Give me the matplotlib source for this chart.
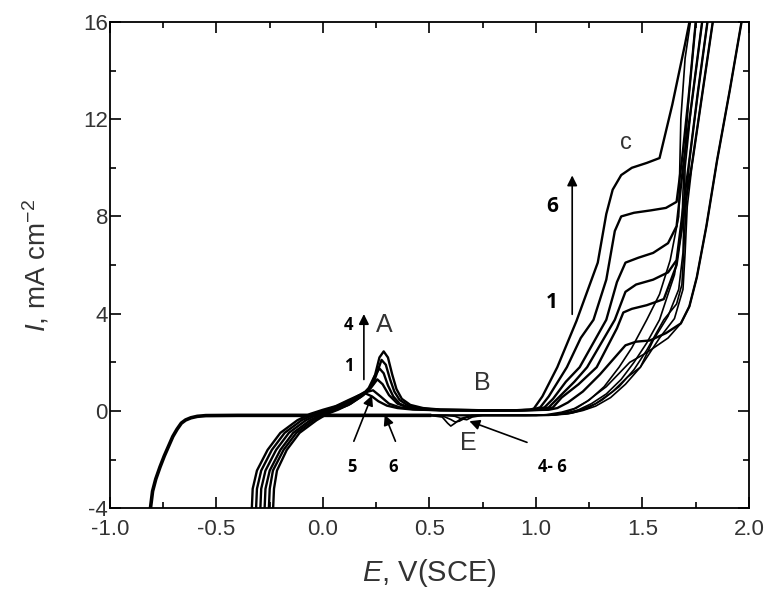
import matplotlib
matplotlib.use("Agg")
import matplotlib.pyplot as plt
import numpy as np

plt.rcParams['font.family'] = ['Liberation Sans', 'DejaVu Sans']
plt.rcParams['mathtext.fontset'] = 'custom'
plt.rcParams['mathtext.rm'] = 'Liberation Sans'
plt.rcParams['mathtext.it'] = 'Liberation Sans:italic'
plt.rcParams['axes.unicode_minus'] = False

# ---- forward sweeps, cycles 1..6  (E in V vs SCE, I in mA cm-2)
f1_E = [-0.235, -0.23, -0.216, -0.17, -0.11, -0.03, 0.02, 0.07, 0.13, 0.19, 0.225, 0.255, 0.28, 0.31, 0.35,
        0.40, 0.47, 0.55, 0.75, 0.95, 1.06, 1.10, 1.15, 1.22, 1.30, 1.37, 1.42, 1.47, 1.535, 1.61, 1.68,
        1.72, 1.755, 1.80, 1.85, 1.91, 1.965, 1.98]
f1_I = [-4.2, -3.2, -2.45, -1.6, -0.9, -0.38, -0.12, 0.05, 0.3, 0.65, 0.95, 1.3, 1.1, 0.65, 0.3,
        0.14, 0.07, 0.04, 0.03, 0.03, 0.05, 0.12, 0.35, 0.8, 1.5, 2.2, 2.7, 2.85, 2.9, 3.2, 3.6,
        4.3, 5.5, 7.6, 10.3, 13.2, 16.0, 16.8]

f2_E = [-0.255, -0.25, -0.235, -0.185, -0.125, -0.045, 0.01, 0.06, 0.12, 0.18, 0.215, 0.24, 0.265, 0.285,
        0.305, 0.33, 0.36, 0.40, 0.46, 0.55, 0.75, 0.92, 1.04, 1.08, 1.12, 1.20, 1.285, 1.38, 1.41, 1.45,
        1.52, 1.60, 1.66, 1.70, 1.735, 1.78, 1.83, 1.845]
f2_I = [-4.2, -3.2, -2.45, -1.6, -0.9, -0.38, -0.12, 0.05, 0.25, 0.6, 0.95, 1.4, 1.75, 1.55,
        1.05, 0.6, 0.3, 0.15, 0.08, 0.04, 0.03, 0.03, 0.05, 0.15, 0.55, 1.1, 1.8, 3.4, 4.05, 4.2,
        4.35, 4.6, 6.0, 8.5, 10.3, 13.0, 16.0, 16.8]

f3_E = [-0.275, -0.27, -0.25, -0.20, -0.14, -0.06, 0.0, 0.05, 0.11, 0.17, 0.21, 0.235, 0.255, 0.275,
        0.295, 0.315, 0.335, 0.36, 0.40, 0.46, 0.55, 0.75, 0.92, 1.02, 1.06, 1.10, 1.18, 1.24, 1.37,
        1.42, 1.47, 1.55, 1.62, 1.66, 1.70, 1.72, 1.76, 1.805, 1.82]
f3_I = [-4.2, -3.2, -2.45, -1.6, -0.9, -0.38, -0.12, 0.05, 0.25, 0.55, 0.85, 1.1, 1.6, 2.1,
        1.9, 1.3, 0.8, 0.45, 0.22, 0.1, 0.05, 0.03, 0.03, 0.05, 0.15, 0.5, 1.2, 1.8, 3.75,
        4.9, 5.2, 5.4, 5.7, 6.2, 9.0, 10.3, 13.1, 16.0, 16.8]

f4_E = [-0.295, -0.29, -0.27, -0.22, -0.16, -0.08, -0.02, 0.03, 0.09, 0.15, 0.20, 0.225, 0.245, 0.265,
        0.285, 0.305, 0.325, 0.345, 0.37, 0.41, 0.47, 0.55, 0.75, 0.92, 1.0, 1.04, 1.08, 1.14, 1.205,
        1.33, 1.38, 1.42, 1.48, 1.55, 1.62, 1.66, 1.69, 1.73, 1.78, 1.79]
f4_I = [-4.2, -3.2, -2.45, -1.6, -0.9, -0.38, -0.12, 0.05, 0.25, 0.5, 0.8, 1.0, 1.5, 2.2,
        2.45, 2.2, 1.5, 0.9, 0.5, 0.25, 0.12, 0.06, 0.03, 0.03, 0.05, 0.15, 0.5, 1.2, 1.8,
        3.75, 5.3, 6.1, 6.3, 6.5, 6.9, 7.6, 10.0, 12.6, 16.0, 16.8]

f5_E = [-0.315, -0.31, -0.29, -0.24, -0.18, -0.10, -0.04, 0.02, 0.08, 0.14, 0.19, 0.235, 0.27, 0.31,
        0.36, 0.43, 0.55, 0.75, 0.90, 0.98, 1.02, 1.06, 1.145, 1.21, 1.27, 1.33, 1.37, 1.40, 1.46,
        1.54, 1.61, 1.66, 1.685, 1.72, 1.75, 1.765]
f5_I = [-4.2, -3.2, -2.45, -1.6, -0.9, -0.38, -0.12, 0.05, 0.25, 0.5, 0.75, 0.85, 0.6, 0.3,
        0.15, 0.07, 0.03, 0.02, 0.03, 0.05, 0.15, 0.6, 1.8, 3.0, 3.75, 5.4, 7.4, 8.0, 8.15,
        8.25, 8.35, 8.6, 10.3, 13.2, 16.0, 16.8]

f6_E = [-0.335, -0.33, -0.31, -0.26, -0.20, -0.12, -0.06, 0.0, 0.06, 0.12, 0.17, 0.20, 0.23, 0.26,
        0.30, 0.35, 0.42, 0.55, 0.75, 0.90, 0.97, 0.99, 1.03, 1.10, 1.19, 1.29, 1.33, 1.36, 1.40,
        1.45, 1.52, 1.58, 1.64, 1.70, 1.725, 1.74]
f6_I = [-4.2, -3.2, -2.45, -1.6, -0.9, -0.38, -0.12, 0.05, 0.2, 0.45, 0.65, 0.72, 0.6, 0.4,
        0.22, 0.12, 0.06, 0.03, 0.02, 0.03, 0.05, 0.1, 0.6, 1.8, 3.7, 6.1, 8.1, 9.1, 9.7,
        10.0, 10.2, 10.4, 12.6, 15.1, 16.2, 16.8]

# ---- reverse sweeps from vertex down to 0.5 V (cycles 4-6 show the small peak E)
r1_E = [1.98, 1.965, 1.91, 1.85, 1.80, 1.755, 1.72, 1.68, 1.62, 1.52, 1.44, 1.33, 1.24, 1.18, 1.12, 1.05,
        1.0, 0.8, 0.5]
r1_I = [16.8, 16.0, 13.2, 10.3, 7.6, 5.5, 4.3, 3.6, 3.0, 2.4, 2.0, 1.0, 0.4, 0.1, -0.05, -0.15,
        -0.18, -0.18, -0.18]

r2_E = [1.845, 1.83, 1.78, 1.735, 1.71, 1.70, 1.69, 1.65, 1.58, 1.49, 1.43, 1.36, 1.28, 1.21, 1.14, 1.07,
        1.0, 0.8, 0.5]
r2_I = [16.8, 16.0, 13.0, 10.3, 8.4, 6.5, 5.0, 3.8, 3.0, 1.8, 1.4, 0.8, 0.3, 0.05, -0.1, -0.17,
        -0.18, -0.18, -0.18]

r3_E = [1.82, 1.805, 1.76, 1.72, 1.705, 1.695, 1.685, 1.66, 1.60, 1.52, 1.46, 1.39, 1.31, 1.24, 1.17, 1.08,
        1.0, 0.8, 0.5]
r3_I = [16.8, 16.0, 13.1, 10.3, 8.5, 6.8, 5.2, 4.4, 3.75, 2.5, 1.7, 1.0, 0.45, 0.1, -0.08, -0.17,
        -0.18, -0.18, -0.18]

r4_E = [1.79, 1.78, 1.73, 1.70, 1.695, 1.69, 1.67, 1.62, 1.55, 1.49, 1.42, 1.35, 1.28, 1.22, 1.15, 1.06,
        0.95, 0.75, 0.70, 0.675, 0.65, 0.62, 0.58, 0.5]
r4_I = [16.8, 16.0, 12.6, 10.0, 8.0, 6.5, 5.0, 3.9, 2.9, 1.8, 1.1, 0.55, 0.2, 0.02, -0.12, -0.18,
        -0.18, -0.18, -0.25, -0.36, -0.32, -0.22, -0.18, -0.18]

r5_E = [1.765, 1.75, 1.72, 1.70, 1.69, 1.685, 1.65, 1.58, 1.52, 1.46, 1.40, 1.33, 1.26, 1.20, 1.14, 1.06,
        0.95, 0.72, 0.67, 0.64, 0.62, 0.60, 0.56, 0.5]
r5_I = [16.8, 16.0, 13.2, 10.8, 9.0, 7.5, 5.6, 3.75, 2.8, 2.0, 1.3, 0.7, 0.3, 0.05, -0.1, -0.17,
        -0.18, -0.18, -0.28, -0.42, -0.45, -0.35, -0.2, -0.18]

r6_E = [1.74, 1.725, 1.70, 1.68, 1.675, 1.67, 1.63, 1.58, 1.52, 1.45, 1.39, 1.32, 1.25, 1.19, 1.14, 1.08,
        0.95, 0.70, 0.65, 0.62, 0.60, 0.585, 0.56, 0.5]
r6_I = [16.8, 16.0, 14.5, 12.0, 10.0, 8.0, 6.2, 4.8, 3.75, 2.6, 1.8, 1.0, 0.45, 0.12, -0.05, -0.15,
        -0.18, -0.18, -0.3, -0.5, -0.62, -0.5, -0.25, -0.18]

# common cathodic tail of the reverse sweeps
tail_E = [0.5, 0.2, 0.0, -0.2, -0.4, -0.55, -0.59, -0.62, -0.645, -0.665, -0.685, -0.705, -0.725, -0.745,
          -0.765, -0.785, -0.80, -0.81, -0.812]
tail_I = [-0.18, -0.18, -0.18, -0.18, -0.18, -0.19, -0.22, -0.28, -0.37, -0.5, -0.75, -1.05, -1.45, -1.85,
          -2.3, -2.8, -3.3, -4.0, -4.3]

forward = [(f1_E, f1_I), (f2_E, f2_I), (f3_E, f3_I), (f4_E, f4_I), (f5_E, f5_I), (f6_E, f6_I)]
reverse = [(r1_E, r1_I), (r2_E, r2_I), (r3_E, r3_I), (r4_E, r4_I), (r5_E, r5_I), (r6_E, r6_I)]

fig = plt.figure(figsize=(7.69, 5.91), dpi=100)
ax = fig.add_axes([0.143, 0.140, 0.831, 0.823])

for E, I in forward:
    ax.plot(E, I, color='black', lw=1.7)
for E, I in reverse:
    ax.plot(E, I, color='black', lw=1.2)
ax.plot(tail_E, tail_I, color='black', lw=2.6)

ax.set_xlim(-1.0, 2.0)
ax.set_ylim(-4, 16)
ax.set_xticks(np.arange(-1.0, 2.01, 0.5))
ax.set_xticks(np.arange(-1.0, 2.01, 0.25), minor=True)
ax.set_yticks(np.arange(-4, 16.1, 4))
ax.set_yticks(np.arange(-4, 16.1, 2), minor=True)
ax.xaxis.set_major_formatter(matplotlib.ticker.FormatStrFormatter('%.1f'))
ax.tick_params(which='both', direction='in', top=True, right=True, labelsize=16,
               labelcolor='#333333', width=1.2)
ax.tick_params(which='major', length=8)
ax.tick_params(which='minor', length=4.5)
ax.tick_params(axis='x', pad=8)
ax.tick_params(axis='y', pad=1.5)
for s in ax.spines.values():
    s.set_linewidth(1.3)

ax.set_xlabel(r'$E$, V(SCE)', fontsize=21, color='#333333')
ax.xaxis.set_label_coords(0.5, -0.1)
ax.set_ylabel(r'$I$, mA cm$^{\mathregular{-2}}$', fontsize=20, color='#333333')
ax.yaxis.set_label_coords(-0.092, 0.5)

# region labels
ax.text(0.29, 3.55, 'A', fontsize=18, color='#333333', ha='center', va='center')
ax.text(0.75, 1.15, 'B', fontsize=18, color='#333333', ha='center', va='center')
ax.text(0.68, -1.3, 'E', fontsize=18, color='#333333', ha='center', va='center')
ax.text(1.42, 11.0, 'c', fontsize=17, color='#333333', ha='center', va='center')

bold = dict(fontfamily='Open Sans', fontweight='bold', color='black', ha='center', va='center')
ax.text(0.122, 3.55, '4', fontsize=12, **bold)
ax.text(0.122, 1.84, '1', fontsize=12, **bold)
ax.text(0.136, -2.3, '5', fontsize=12, **bold)
ax.text(0.33, -2.3, '6', fontsize=12, **bold)
ax.text(1.075, -2.3, '4- 6', fontsize=12, **bold)
ax.text(1.075, 8.4, '6', fontsize=15, **bold)
ax.text(1.075, 4.48, '1', fontsize=15, **bold)

arr = dict(arrowstyle='-|>', color='black', lw=1.2, mutation_scale=15)
ax.annotate('', xy=(0.192, 4.1), xytext=(0.192, 1.18), arrowprops=arr)
ax.annotate('', xy=(1.17, 9.8), xytext=(1.17, 3.86), arrowprops=arr)
ax.annotate('', xy=(0.235, 0.75), xytext=(0.14, -1.35), arrowprops=arr)
ax.annotate('', xy=(0.285, -0.05), xytext=(0.345, -1.35), arrowprops=arr)
ax.annotate('', xy=(0.675, -0.38), xytext=(0.97, -1.33), arrowprops=arr)

fig.savefig('out.png', dpi=100)
